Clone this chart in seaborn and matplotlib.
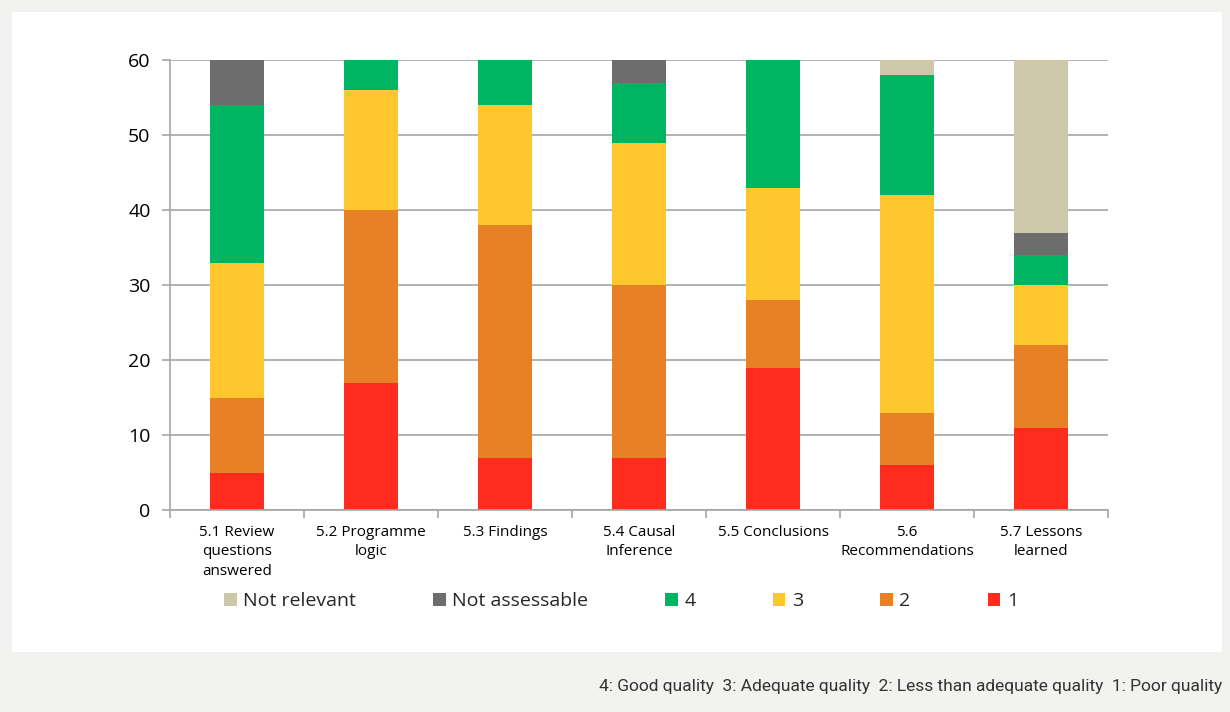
import matplotlib
matplotlib.use("Agg")
import matplotlib.pyplot as plt
import seaborn as sns
import pandas as pd
import numpy as np
from matplotlib.patches import Rectangle, Patch

categories = ["5.1 Review\nquestions\nanswered", "5.2 Programme\nlogic", "5.3 Findings",
              "5.4 Causal\nInference", "5.5 Conclusions", "5.6\nRecommendations",
              "5.7 Lessons\nlearned"]
score_1 = [5, 17, 7, 7, 19, 6, 11]
score_2 = [10, 23, 31, 23, 9, 7, 11]
score_3 = [18, 16, 16, 19, 15, 29, 8]
score_4 = [21, 4, 6, 8, 17, 16, 4]
not_assessable = [6, 0, 0, 3, 0, 0, 3]
not_relevant = [0, 0, 0, 0, 0, 2, 23]

series_names = ["1", "2", "3", "4", "Not assessable", "Not relevant"]
series_values = [score_1, score_2, score_3, score_4, not_assessable, not_relevant]
colors = {"1": "#FF2B1C", "2": "#E88025", "3": "#FEC72E", "4": "#00B562",
          "Not assessable": "#6D6D6D", "Not relevant": "#CEC8AA"}
y_ticks = [0, 10, 20, 30, 40, 50, 60]
footnote = "4: Good quality  3: Adequate quality  2: Less than adequate quality  1: Poor quality"

sns.set_theme(style="white")
plt.rcParams["font.family"] = ["Open Sans", "DejaVu Sans"]

fig = plt.figure(figsize=(12.3, 7.12), dpi=100)
fig.patch.set_facecolor("#F2F2F0")
fig.add_artist(Rectangle((12 / 1230, 1 - 652 / 712), (1222 - 12) / 1230, (652 - 12) / 712,
                         transform=fig.transFigure, facecolor="white", edgecolor="none", zorder=0))

ax = fig.add_axes([170 / 1230, 1 - 510 / 712, (1108 - 170) / 1230, (510 - 60) / 712])
ax.set_facecolor("none")

df = pd.DataFrame({"category": categories})
bottom = np.zeros(len(categories))
for name, vals in zip(series_names, series_values):
    df["value"] = vals
    sns.barplot(data=df, x="category", y="value", color=colors[name], bottom=bottom,
                width=0.4, ax=ax, saturation=1, zorder=3, errorbar=None,
                linewidth=0, edgecolor="none")
    bottom = bottom + np.array(vals)

ax.set_ylim(0, 60)
ax.set_xlim(-0.5, len(categories) - 0.5)
ax.set_yticks(y_ticks)
ax.yaxis.grid(True, color="#A6A6A6", linewidth=1.2, zorder=0)
ax.set_axisbelow(True)
for s in ["top", "right"]:
    ax.spines[s].set_visible(False)
for s in ["left", "bottom"]:
    ax.spines[s].set_color("#A6A6A6")
    ax.spines[s].set_linewidth(1.2)
    ax.spines[s].set_zorder(4)
ax.set_xlabel("")
ax.set_ylabel("")

ax.tick_params(axis="y", which="major", left=True, length=6, width=1.2, color="#A6A6A6",
               labelsize=14, pad=8, labelcolor="black")
ax.set_xticks(range(len(categories)))
ax.set_xticklabels(categories, fontsize=11, linespacing=1.38)
ax.tick_params(axis="x", which="major", bottom=False, pad=5, labelcolor="black")
ax.set_xticks(np.arange(-0.5, len(categories), 1.0), minor=True)
ax.tick_params(axis="x", which="minor", bottom=True, length=6, width=1.2, color="#A6A6A6")

legend_order = ["Not relevant", "Not assessable", "4", "3", "2", "1"]
handles = [Patch(facecolor=colors[n], edgecolor="none") for n in legend_order]
fig.legend(handles, legend_order, loc="center", bbox_to_anchor=(621 / 1230, 1 - 601 / 712),
           ncol=6, frameon=False, fontsize=14, handlelength=0.65, handleheight=0.65,
           handletextpad=0.35, columnspacing=3.95)

fig.text(1222 / 1230, 1 - 686 / 712, footnote, ha="right", va="center", fontsize=12.5,
         color="#333333", family=["Liberation Sans Narrow", "Roboto", "DejaVu Sans"])

fig.savefig("out.png", dpi=100, facecolor=fig.get_facecolor())
